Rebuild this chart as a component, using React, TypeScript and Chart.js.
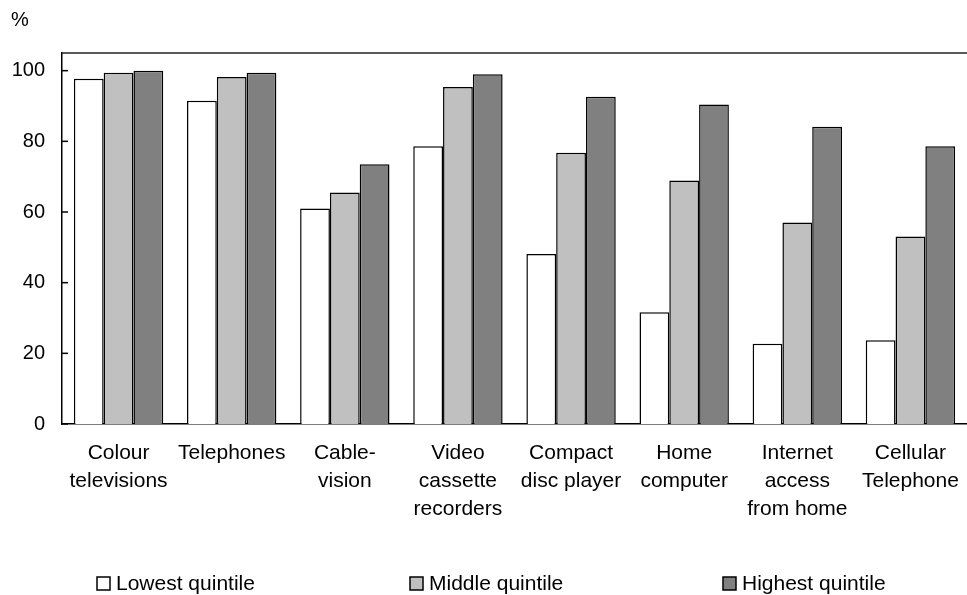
import React, { useEffect, useRef } from "react";
import { Chart, registerables } from "chart.js";

Chart.register(...registerables);

const categories: string[][] = [
  ["Colour", "televisions"],
  ["Telephones"],
  ["Cable-", "vision"],
  ["Video", "cassette", "recorders"],
  ["Compact", "disc player"],
  ["Home", "computer"],
  ["Internet", "access", "from home"],
  ["Cellular", "Telephone"],
];
const seriesNames = ["Lowest quintile", "Middle quintile", "Highest quintile"];
const lowest = [97.7, 91.5, 61.0, 78.6, 48.1, 31.6, 22.7, 23.7];
const middle = [99.4, 98.2, 65.5, 95.4, 76.8, 68.9, 57.0, 53.1];
const highest = [100, 99.4, 73.5, 99.0, 92.6, 90.4, 84.1, 78.6];
const yTicks = [0, 20, 40, 60, 80, 100];
const unitLabel = "%";

const seriesColors = ["#FFFFFF", "#C0C0C0", "#808080"];
const FONT = "'Liberation Sans', Arial, sans-serif";

const decorPlugin = {
  id: "decor",
  afterDraw(chart: any) {
    const { ctx, chartArea, scales } = chart;
    ctx.save();
    // top frame line
    ctx.strokeStyle = "#222";
    ctx.lineWidth = 1.5;
    ctx.beginPath();
    ctx.moveTo(chartArea.left, chartArea.top);
    ctx.lineTo(chartArea.right, chartArea.top);
    ctx.stroke();
    // inward tick marks on y axis
    ctx.strokeStyle = "#000";
    ctx.lineWidth = 1.5;
    for (const v of yTicks) {
      const y = scales.y.getPixelForValue(v);
      ctx.beginPath();
      ctx.moveTo(chartArea.left, y);
      ctx.lineTo(chartArea.left + 6, y);
      ctx.stroke();
    }
    // unit label
    ctx.fillStyle = "#000";
    ctx.font = `20px ${FONT}`;
    ctx.textAlign = "left";
    ctx.textBaseline = "middle";
    ctx.fillText(unitLabel, 11, 20);
    // legend
    ctx.font = `21px ${FONT}`;
    chart.data.datasets.forEach((ds: any, i: number) => {
      const x = 97 + i * 313;
      const y = 577;
      ctx.fillStyle = ds.backgroundColor;
      ctx.fillRect(x, y, 13, 13);
      ctx.strokeStyle = "#000";
      ctx.lineWidth = 1.5;
      ctx.strokeRect(x, y, 13, 13);
      ctx.fillStyle = "#000";
      ctx.textAlign = "left";
      ctx.textBaseline = "middle";
      ctx.fillText(ds.label, x + 19, y + 7);
    });
    ctx.restore();
  },
};

export default function App() {
  const ref = useRef<HTMLCanvasElement | null>(null);
  useEffect(() => {
    if (!ref.current) return;
    const data = [lowest, middle, highest];
    const chart = new Chart(ref.current, {
      type: "bar",
      data: {
        labels: categories,
        datasets: seriesNames.map((name, i) => ({
          label: name,
          data: data[i],
          backgroundColor: seriesColors[i],
          borderColor: "#000",
          borderWidth: 1.5,
          categoryPercentage: 0.79,
          barPercentage: 1,
        })),
      },
      options: {
        animation: false,
        responsive: true,
        maintainAspectRatio: false,
        layout: { padding: { top: 53, left: 0, right: 0, bottom: 0 } },
        plugins: { legend: { display: false }, tooltip: { enabled: false } },
        scales: {
          x: {
            grid: { display: false, drawTicks: false },
            border: { display: true, color: "#000", width: 1.5 },
            ticks: {
              autoSkip: false,
              maxRotation: 0,
              minRotation: 0,
              padding: 15,
              color: "#000",
              font: { family: FONT, size: 21, lineHeight: 1.33 },
            },
            afterFit: (scale: any) => {
              scale.height = 171;
              scale.paddingRight = 0;
              scale.paddingLeft = 0;
            },
          },
          y: {
            min: 0,
            max: 105,
            grid: { display: false, drawTicks: false },
            border: { display: true, color: "#000", width: 1.5 },
            ticks: {
              stepSize: 20,
              includeBounds: false,
              padding: 17,
              color: "#000",
              font: { family: FONT, size: 20 },
              callback: (v: any) => (yTicks.includes(Number(v)) ? String(v) : null),
            },
            afterFit: (scale: any) => {
              scale.width = 62;
            },
          },
        },
      },
      plugins: [decorPlugin],
    });
    return () => chart.destroy();
  }, []);
  return (
    <div style={{ position: "fixed", left: 0, top: 0, width: 967, height: 595, background: "#fff" }}>
      <canvas ref={ref} />
    </div>
  );
}
